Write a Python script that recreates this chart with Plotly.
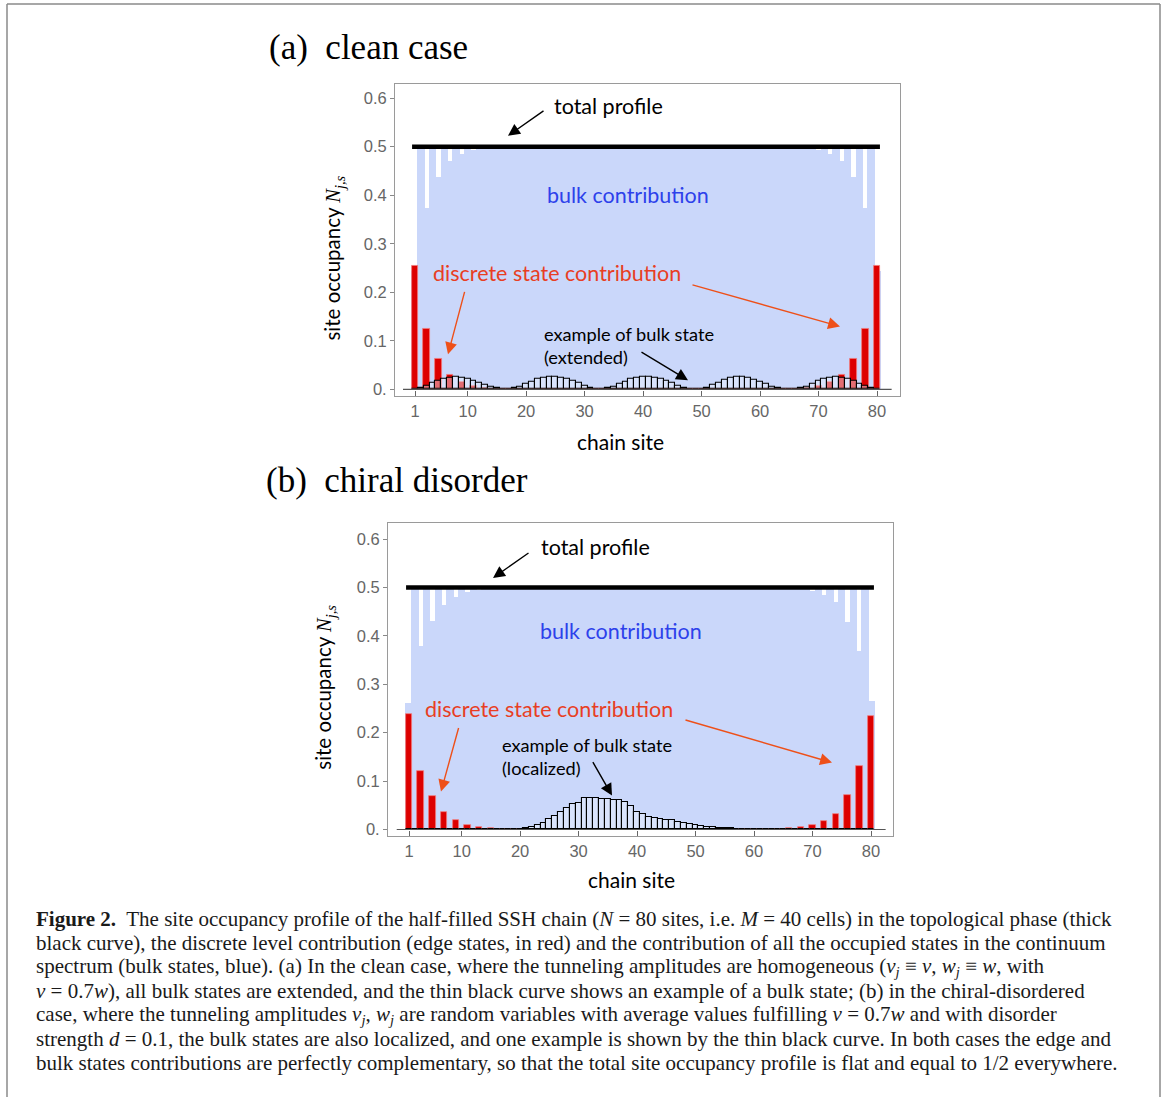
import plotly.graph_objects as go

# ---------------- data ----------------
sites = list(range(1, 81))
x_tick_vals = [1, 10, 20, 30, 40, 50, 60, 70, 80]
x_tick_text = ["1", "10", "20", "30", "40", "50", "60", "70", "80"]
y_tick_vals = [0.0, 0.1, 0.2, 0.3, 0.4, 0.5, 0.6]
y_tick_text = ["0.", "0.1", "0.2", "0.3", "0.4", "0.5", "0.6"]

# (a) clean case
edge_a = [
    0.255, 0, 0.125, 0, 0.062, 0, 0.030, 0, 0.015, 0,
    0.0074, 0, 0.0036, 0, 0.0018, 0, 0.0009, 0, 0.0004, 0,
    0, 0, 0, 0, 0, 0, 0, 0, 0, 0,
    0, 0, 0, 0, 0, 0, 0, 0, 0, 0,
    0, 0, 0, 0, 0, 0, 0, 0, 0, 0,
    0, 0, 0, 0, 0, 0, 0, 0, 0, 0,
    0, 0.0004, 0, 0.0009, 0, 0.0018, 0, 0.0036, 0, 0.0074,
    0, 0.015, 0, 0.030, 0, 0.062, 0, 0.125, 0, 0.255,
]
bulk_a = [
    0.245, 0.5, 0.375, 0.5, 0.438, 0.5, 0.470, 0.5, 0.485, 0.5,
    0.4926, 0.5, 0.4964, 0.5, 0.4982, 0.5, 0.4991, 0.5, 0.4996, 0.5,
    0.5, 0.5, 0.5, 0.5, 0.5, 0.5, 0.5, 0.5, 0.5, 0.5,
    0.5, 0.5, 0.5, 0.5, 0.5, 0.5, 0.5, 0.5, 0.5, 0.5,
    0.5, 0.5, 0.5, 0.5, 0.5, 0.5, 0.5, 0.5, 0.5, 0.5,
    0.5, 0.5, 0.5, 0.5, 0.5, 0.5, 0.5, 0.5, 0.5, 0.5,
    0.5, 0.4996, 0.5, 0.4991, 0.5, 0.4982, 0.5, 0.4964, 0.5, 0.4926,
    0.5, 0.485, 0.5, 0.470, 0.5, 0.438, 0.5, 0.375, 0.5, 0.245,
]
state_a = [
    0.0007, 0.0034, 0.0069, 0.0124, 0.0170, 0.0210, 0.0240, 0.0248, 0.0240, 0.0210,
    0.0170, 0.0138, 0.0096, 0.0055, 0.0028, 0.0007, 0.0001, 0.0020, 0.0055, 0.0110,
    0.0160, 0.0206, 0.0230, 0.0248, 0.0248, 0.0230, 0.0206, 0.0165, 0.0124, 0.0076,
    0.0034, 0.0007, 0.0001, 0.0020, 0.0055, 0.0110, 0.0160, 0.0206, 0.0230, 0.0248,
    0.0248, 0.0230, 0.0206, 0.0165, 0.0124, 0.0076, 0.0034, 0.0007, 0.0001, 0.0010,
    0.0040, 0.0090, 0.0138, 0.0186, 0.0227, 0.0248, 0.0248, 0.0227, 0.0190, 0.0150,
    0.0103, 0.0060, 0.0028, 0.0007, 0.0001, 0.0007, 0.0020, 0.0055, 0.0110, 0.0170,
    0.0210, 0.0240, 0.0248, 0.0240, 0.0206, 0.0165, 0.0117, 0.0069, 0.0028, 0.0007,
]
total_a = [0.5] * 80

# (b) chiral disorder
edge_b = [
    0.238, 0, 0.121, 0, 0.069, 0, 0.036, 0, 0.019, 0,
    0.009, 0, 0.0045, 0, 0.002, 0, 0.001, 0, 0.0005, 0,
    0, 0, 0, 0, 0, 0, 0, 0, 0, 0,
    0, 0, 0, 0, 0, 0, 0, 0, 0, 0,
    0, 0, 0, 0, 0, 0, 0, 0, 0, 0,
    0, 0, 0, 0, 0, 0, 0, 0, 0, 0,
    0, 0.0007, 0, 0.0014, 0, 0.002, 0, 0.0041, 0, 0.0083,
    0, 0.0165, 0, 0.031, 0, 0.071, 0, 0.131, 0, 0.234,
]
bulk_b = [
    0.262, 0.5, 0.379, 0.5, 0.431, 0.5, 0.464, 0.5, 0.481, 0.5,
    0.491, 0.5, 0.4955, 0.5, 0.498, 0.5, 0.499, 0.5, 0.4995, 0.5,
    0.5, 0.5, 0.5, 0.5, 0.5, 0.5, 0.5, 0.5, 0.5, 0.5,
    0.5, 0.5, 0.5, 0.5, 0.5, 0.5, 0.5, 0.5, 0.5, 0.5,
    0.5, 0.5, 0.5, 0.5, 0.5, 0.5, 0.5, 0.5, 0.5, 0.5,
    0.5, 0.5, 0.5, 0.5, 0.5, 0.5, 0.5, 0.5, 0.5, 0.5,
    0.5, 0.4993, 0.5, 0.4986, 0.5, 0.498, 0.5, 0.4959, 0.5, 0.4917,
    0.5, 0.4835, 0.5, 0.469, 0.5, 0.429, 0.5, 0.369, 0.5, 0.266,
]
state_b = [
    0, 0, 0, 0, 0, 0, 0, 0, 0, 0,
    0, 0, 0, 0, 0.0001, 0.0002, 0.0003, 0.0005, 0.0010, 0.0015,
    0.0034, 0.0055, 0.0083, 0.0138, 0.0207, 0.0275, 0.0365, 0.0448, 0.0517, 0.0551,
    0.0640, 0.0640, 0.0640, 0.0634, 0.0627, 0.0613, 0.0613, 0.0565, 0.0480, 0.0360,
    0.0310, 0.0255, 0.0227, 0.0207, 0.0193, 0.0186, 0.0158, 0.0138, 0.0117, 0.0090,
    0.0069, 0.0055, 0.0048, 0.0034, 0.0028, 0.0020, 0.0014, 0.0007, 0.0004, 0.0002,
    0.0001, 0, 0, 0, 0, 0, 0, 0, 0, 0,
    0, 0, 0, 0, 0, 0, 0, 0, 0, 0,
]
total_b = [0.5] * 80

caption_lines = [
    "<b>Figure 2.</b>&nbsp; The site occupancy profile of the half-filled SSH chain (<i>N</i> = 80 sites, i.e. <i>M</i> = 40 cells) in the topological phase (thick",
    "black curve), the discrete level contribution (edge states, in red) and the contribution of all the occupied states in the continuum",
    "spectrum (bulk states, blue). (a) In the clean case, where the tunneling amplitudes are homogeneous (<i>v<sub>j</sub></i> ≡ <i>v</i>, <i>w<sub>j</sub></i> ≡ <i>w</i>, with",
    "<i>v</i> = 0.7<i>w</i>), all bulk states are extended, and the thin black curve shows an example of a bulk state; (b) in the chiral-disordered",
    "case, where the tunneling amplitudes <i>v<sub>j</sub></i>, <i>w<sub>j</sub></i> are random variables with average values fulfilling <i>v</i> = 0.7<i>w</i> and with disorder",
    "strength <i>d</i> = 0.1, the bulk states are also localized, and one example is shown by the thin black curve. In both cases the edge and",
    "bulk states contributions are perfectly complementary, so that the total site occupancy profile is flat and equal to 1/2 everywhere.",
]

# ---------------- styling ----------------
W, H = 1165, 1097
BLUE = "rgb(202,215,250)"
RED = "rgb(221,0,0)"
ARROW_RED = "rgb(238,80,25)"
TXT_RED = "rgb(232,62,35)"
TXT_BLUE = "rgb(45,65,235)"
SANS = "Lato"
TICKF = "Liberation Sans"
SERIF = "Liberation Serif"


def px(x):
    return x / W


def py(y):
    return 1 - y / H


fig = go.Figure()


def add_panel(xa, ya, edge, bulk, state, total):
    fig.add_trace(go.Bar(x=sites, y=bulk, width=1.26, xaxis=xa, yaxis=ya,
                         marker=dict(color=BLUE, line=dict(width=0)), showlegend=False))
    fig.add_trace(go.Bar(x=sites, y=edge, width=1.1, xaxis=xa, yaxis=ya,
                         marker=dict(color=RED, line=dict(color="rgb(240,120,120)", width=0.8)),
                         showlegend=False))
    fig.add_trace(go.Bar(x=sites, y=state, width=1.0, xaxis=xa, yaxis=ya,
                         marker=dict(color="rgba(236,241,255,0.45)", line=dict(color="black", width=1.1)),
                         showlegend=False))
    xs = [s - 0.5 for s in sites] + [sites[-1] + 0.5]
    ys = list(total) + [total[-1]]
    fig.add_trace(go.Scatter(x=xs, y=ys, xaxis=xa, yaxis=ya, mode="lines",
                             line=dict(color="black", width=4.5, shape="hv"), showlegend=False))


add_panel("x", "y", edge_a, bulk_a, state_a, total_a)
add_panel("x2", "y2", edge_b, bulk_b, state_b, total_b)

axis_common = dict(showline=True, mirror=True, linecolor="#9a9a9a", linewidth=1,
                   showgrid=False, zeroline=False)

fig.update_layout(
    width=W, height=H, margin=dict(l=0, r=0, t=0, b=0),
    paper_bgcolor="white", plot_bgcolor="white", barmode="overlay", bargap=0,
    xaxis=dict(domain=[px(395), px(900)], range=[-2.42, 83.93], anchor="y",
               tickvals=x_tick_vals, ticktext=x_tick_text, ticks="inside", ticklen=5,
               tickcolor="#666", tickfont=dict(family=TICKF, size=16.5, color="#666"),
               **axis_common),
    yaxis=dict(domain=[py(397), py(84)], range=[-0.0144, 0.6296], anchor="x",
               tickvals=y_tick_vals, ticktext=y_tick_text, ticks="outside", ticklen=4,
               tickcolor="#888", tickfont=dict(family=TICKF, size=16.5, color="#666"),
               **axis_common),
    xaxis2=dict(domain=[px(388), px(893)], range=[-2.59, 83.76], anchor="y2",
                tickvals=x_tick_vals, ticktext=x_tick_text, ticks="inside", ticklen=5,
                tickcolor="#666", tickfont=dict(family=TICKF, size=16.5, color="#666"),
                **axis_common),
    yaxis2=dict(domain=[py(838), py(524)], range=[-0.0144, 0.633], anchor="x2",
                tickvals=y_tick_vals, ticktext=y_tick_text, ticks="outside", ticklen=4,
                tickcolor="#888", tickfont=dict(family=TICKF, size=16.5, color="#666"),
                **axis_common),
)

shapes = []
# zero baselines
shapes.append(dict(type="line", xref="x", yref="y", x0=-1.05, x1=82.5, y0=0, y1=0,
                   line=dict(color="#555", width=1.2), layer="above"))
shapes.append(dict(type="line", xref="x2", yref="y2", x0=-1.1, x1=82.5, y0=0, y1=0,
                   line=dict(color="#555", width=1.2), layer="above"))
# outer border of figure box
for x0, y0, x1, y1 in [(7, 4, 7, 1100), (7, 4, 1160, 4), (1160, 4, 1160, 1100)]:
    shapes.append(dict(type="line", xref="paper", yref="paper", x0=px(x0), y0=py(y0),
                       x1=px(x1), y1=py(y1), line=dict(color="#8a8a8a", width=1.5)))
fig.update_layout(shapes=shapes)

ann = []


def text(x, y, s, size, color="black", family=SANS, xanchor="left", angle=0):
    ann.append(dict(x=px(x), y=py(y), xref="paper", yref="paper", text=s, showarrow=False,
                    xanchor=xanchor, yanchor="middle", textangle=angle,
                    font=dict(family=family, size=size, color=color)))


def arrow(tx, ty, hx, hy, color):
    ann.append(dict(x=px(hx), y=py(hy), xref="paper", yref="paper", text="",
                    showarrow=True, ax=tx - hx, ay=ty - hy, axref="pixel", ayref="pixel",
                    arrowhead=2, arrowsize=1.7, arrowwidth=1.4, arrowcolor=color, standoff=0))


# titles
text(267, 48, "(a)&nbsp;&nbsp;clean case", 35, family=SERIF)
text(264, 481, "(b)&nbsp;&nbsp;chiral disorder", 35, family=SERIF)

YLAB = "site occupancy <span style=\"font-family:'Liberation Serif'\"><i>N</i><sub><i>j,s</i></sub></span>"
for (lx, ly, ax_x, ax_y) in [(334, 258, 620, 442), (325, 688, 632, 881)]:
    text(lx, ly, YLAB, 20.5, xanchor="center", angle=-90)
    text(ax_x, ax_y, "chain site", 21, xanchor="center")

# panel (a) annotations
text(552, 106, "total profile", 21.5)
arrow(545, 110, 508, 136, "black")
text(545, 195, "bulk contribution", 21.5, color=TXT_BLUE)
text(431, 273, "discrete state contribution", 21.5, color=TXT_RED)
arrow(465, 291, 448, 355, ARROW_RED)
arrow(691, 285, 840, 327, ARROW_RED)
text(542, 335, "example of bulk state", 18.2)
text(542, 358, "(extended)", 18.2)
arrow(640, 352, 688, 381, "black")

# panel (b) annotations
text(539, 548, "total profile", 21.5)
arrow(530, 553, 493, 579, "black")
text(538, 632, "bulk contribution", 21.5, color=TXT_BLUE)
text(423, 710, "discrete state contribution", 21.5, color=TXT_RED)
arrow(459, 728, 441, 793, ARROW_RED)
arrow(684, 721, 832, 764, ARROW_RED)
text(500, 746, "example of bulk state", 18.2)
text(500, 769, "(localized)", 18.2)
arrow(592, 762, 612, 797, "black")

# caption
for i, line in enumerate(caption_lines):
    text(34, 921 + 24 * i, line, 21, color="#1a1a1a", family=SERIF)

fig.update_layout(annotations=ann)

fig.write_html("out.html", config={"displayModeBar": False},
               post_script="document.body.style.margin='0px';")
